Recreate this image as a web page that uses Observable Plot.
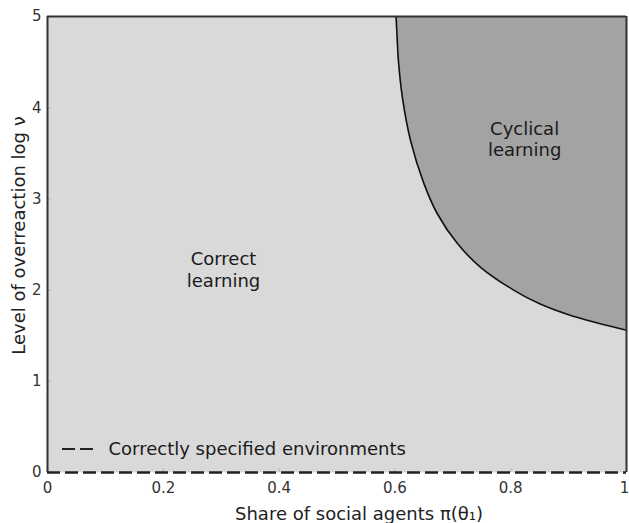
<!DOCTYPE html>
<html>
<head>
<meta charset="utf-8">
<script src="https://cdn.jsdelivr.net/npm/d3@7"></script>
<script src="https://cdn.jsdelivr.net/npm/@observablehq/plot@0.6"></script>
<style>
  html, body { margin: 0; padding: 0; background: #fff; }
  #chart svg { display: block; }
</style>
</head>
<body>
<div id="chart"></div>
<script>
// ---- data ----
const boundaryX = [0.602, 0.604, 0.606, 0.613, 0.627, 0.650, 0.673, 0.708, 0.748, 0.805, 0.850, 0.900, 0.950, 1.0];
const boundaryY = [5.0, 4.75, 4.52, 4.11, 3.64, 3.17, 2.84, 2.51, 2.25, 2.0, 1.85, 1.73, 1.64, 1.56];

const xTicks = [0, 0.2, 0.4, 0.6, 0.8, 1];
const xTickLabels = ["0", "0.2", "0.4", "0.6", "0.8", "1"];
const yTicks = [0, 1, 2, 3, 4, 5];
const yTickLabels = ["0", "1", "2", "3", "4", "5"];

const regionLabels = ["Correct\nlearning", "Cyclical\nlearning"];
const regionX = [0.304, 0.824];
const regionY = [2.23, 3.66];

const correctlySpecifiedY = [0];
const legendLabel = "Correctly specified environments";
const xLabel = "Share of social agents π(θ₁)";
const yLabel = "Level of overreaction log ν";

// ---- chart ----
const boundary = boundaryX.map((x, i) => ({x, y: boundaryY[i]}));
const font = "DejaVu Sans, sans-serif";
const dash = "13,5";
const fmtX = (d) => xTickLabels[xTicks.indexOf(d)];
const lastX = xTicks[xTicks.length - 1];

const legendSample = (index, scales, values, dimensions) => {
  const y = dimensions.height - dimensions.marginBottom - 23;
  const x0 = dimensions.marginLeft + 15;
  const line = d3.create("svg:line")
    .attr("x1", x0).attr("x2", x0 + 33)
    .attr("y1", y).attr("y2", y)
    .attr("stroke", "#222")
    .attr("stroke-width", 2)
    .attr("stroke-dasharray", dash);
  return line.node();
};

const chart = Plot.plot({
  width: 629,
  height: 523,
  marginLeft: 47,
  marginRight: 3,
  marginTop: 16,
  marginBottom: 51,
  style: {fontFamily: font, background: "#fff", overflow: "visible"},
  x: {domain: [0, 1], axis: null},
  y: {domain: [0, 5], axis: null},
  marks: [
    Plot.frame({fill: "#d9d9d9", stroke: null}),
    Plot.areaX(boundary, {y: "y", x1: "x", x2: () => 1, fill: "#a3a3a3", curve: "catmull-rom"}),
    Plot.line(boundary, {x: "x", y: "y", stroke: "#111", strokeWidth: 1.6, curve: "catmull-rom"}),
    // inward tick marks
    Plot.axisX(xTicks, {anchor: "bottom", tickSize: 4, dy: -4, stroke: "#b5b5b5", tickFormat: () => "", label: null}),
    Plot.axisY(yTicks, {anchor: "left", tickSize: 4, dx: 4, stroke: "#b5b5b5", tickFormat: () => "", label: null}),
    // tick labels
    Plot.axisX(xTicks.filter((d) => d !== lastX), {anchor: "bottom", tickSize: 0, tickPadding: 10, fontSize: 15, fill: "#333",
      tickFormat: fmtX, label: null}),
    Plot.axisX([lastX], {anchor: "bottom", tickSize: 0, tickPadding: 10, fontSize: 15, fill: "#333", dx: -2,
      tickFormat: fmtX, label: null}),
    Plot.axisY(yTicks, {anchor: "left", tickSize: 0, tickPadding: 6, fontSize: 15, fill: "#333",
      tickFormat: (d) => yTickLabels[yTicks.indexOf(d)], label: null}),
    // frame edges
    Plot.ruleX([0, 1], {stroke: "#333", strokeWidth: 2}),
    Plot.ruleY([5], {stroke: "#333", strokeWidth: 2}),
    Plot.ruleY(correctlySpecifiedY, {stroke: "#222", strokeWidth: 2.5, strokeDasharray: dash}),
    // region labels
    Plot.text(regionLabels, {x: (d, i) => regionX[i], y: (d, i) => regionY[i], text: (d) => d,
      fontSize: 18, lineHeight: 1.2, fill: "#1a1a1a"}),
    // legend
    legendSample,
    Plot.text([legendLabel], {frameAnchor: "bottom-left", dx: 61, dy: -23, textAnchor: "start",
      lineAnchor: "middle", fontSize: 18, fill: "#1a1a1a"}),
    // axis titles
    Plot.text([xLabel], {frameAnchor: "bottom", dx: 22, dy: 42, textAnchor: "middle", lineAnchor: "middle", fontSize: 18, fill: "#222"}),
    Plot.text([yLabel], {frameAnchor: "left", dx: -28, dy: -9, rotate: -90, textAnchor: "middle", lineAnchor: "middle", fontSize: 18, fill: "#222"})
  ]
});
document.getElementById("chart").appendChild(chart);
</script>
</body>
</html>
